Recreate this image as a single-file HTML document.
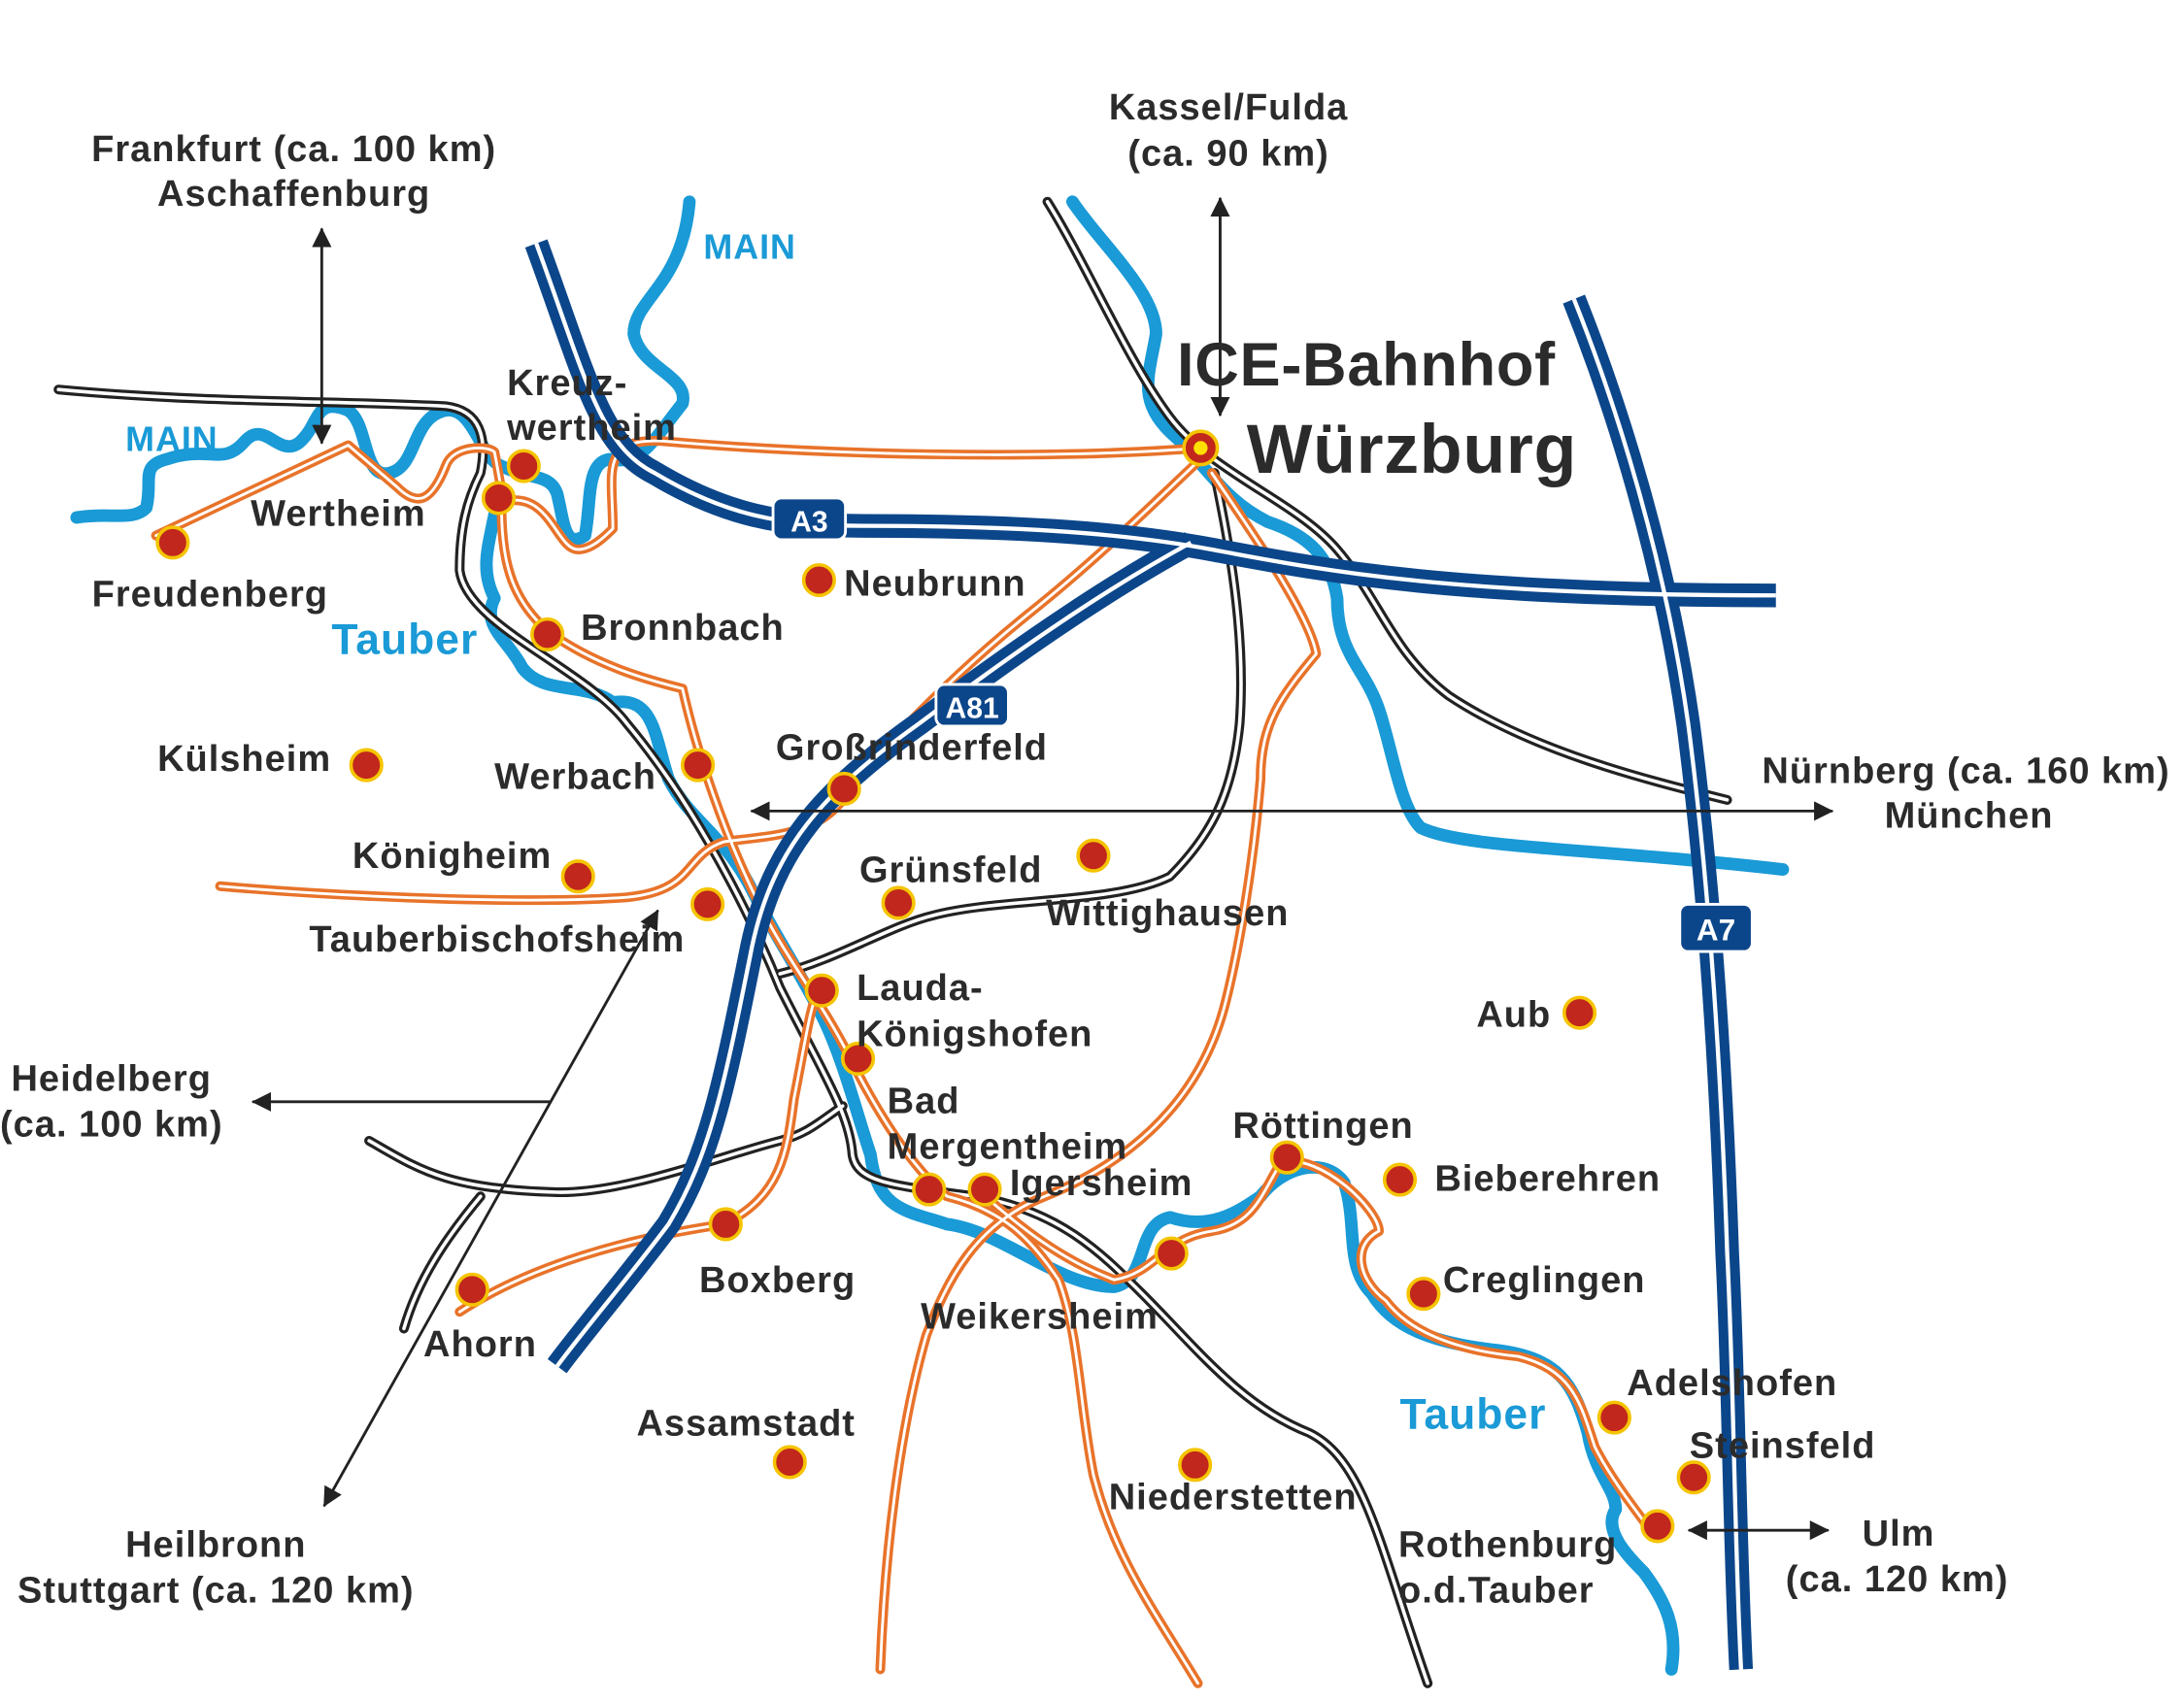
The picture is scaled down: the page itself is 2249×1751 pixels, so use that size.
<!DOCTYPE html>
<html><head><meta charset="utf-8"><style>
html,body{margin:0;padding:0;background:#fff;}
svg{display:block}
text{font-family:"Liberation Sans",Arial,sans-serif;font-weight:bold;fill:#2b2b2b;font-size:26.5px;letter-spacing:0.7px}
.r{fill:#1a9ad6}
</style></head><body>
<svg width="2249" height="1751" viewBox="0 0 1568 1222" preserveAspectRatio="none" xmlns="http://www.w3.org/2000/svg">
<defs>
<marker id="ah" viewBox="0 0 10 10" refX="9" refY="5" markerWidth="7" markerHeight="7" orient="auto-start-reverse"><path d="M0,0L10,5L0,10z" fill="#222"/></marker>
</defs>
<g fill="none" stroke-linecap="round" stroke-linejoin="round">
<g stroke="#1a9ad6" stroke-width="9">
<path d="M55,372 C80,368 95,375 105,365 C110,345 100,335 120,330 C150,320 160,335 175,318 C190,300 200,330 215,318 C230,305 225,285 250,295 C265,305 260,345 280,340 C300,335 295,300 320,295 C340,292 345,330 360,335 C380,345 395,340 400,355 C405,375 405,395 420,385 C425,360 420,330 440,330 C460,335 470,315 490,290 C495,270 460,265 455,240 C455,215 490,205 495,145"/>
<path d="M355,370 C350,395 345,410 355,430 C345,450 365,460 375,480 C390,500 420,490 440,505 C470,500 470,530 480,560 C495,590 520,600 540,640 C555,670 575,700 590,730 C605,760 615,800 625,830 C630,870 650,870 680,880 C720,885 760,925 800,925 C825,920 815,880 840,875 C870,885 890,870 905,860 C920,840 950,830 965,850 C975,880 965,910 985,930 C1000,955 1030,965 1070,970 C1120,975 1130,995 1140,1030 C1145,1060 1160,1070 1160,1085 C1150,1100 1170,1120 1180,1130 C1195,1150 1205,1170 1200,1200"/>
<path d="M770,145 C790,175 830,210 830,240 C825,270 815,290 845,315 C870,340 880,360 910,375 C940,385 955,400 960,430 C960,470 980,480 990,510 C1000,540 1005,580 1020,595 C1050,610 1150,610 1280,625"/>
</g>
<g stroke="#222" stroke-width="7">
<path id="r1" d="M42,280 C150,290 250,288 320,292 C345,295 350,315 345,340 C335,360 330,380 330,410 C335,450 420,480 450,520 C500,580 540,660 560,710 C590,770 610,800 612,830 C615,850 640,852 700,860 C760,870 790,900 820,930 C860,970 890,1010 940,1030 C980,1050 990,1110 1025,1210"/>
<path id="r2" d="M752,145 C780,190 810,260 840,300 C870,340 930,360 960,395 C990,430 1000,470 1040,500 C1100,540 1180,560 1240,575"/>
<path id="r3" d="M872,340 C880,380 895,450 890,520 C885,570 870,600 840,630 C800,650 720,645 670,658 C640,665 600,690 560,700"/>
<path id="r4" d="M265,820 C300,840 320,855 400,857 C450,858 520,830 560,820 C580,815 590,805 605,795"/>
<path id="r5" d="M290,955 C300,920 320,890 345,860"/>
</g>
<g stroke="#fff" stroke-width="2.5">
<use href="#r1"/><use href="#r2"/><use href="#r3"/><use href="#r4"/><use href="#r5"/>
</g>
<g stroke="#e8732a" stroke-width="7">
<path id="o1" d="M112,385 L250,320 L285,350 C300,365 310,360 320,335 C325,320 350,320 355,325 C360,350 360,360 365,360 C395,355 400,395 415,395 C425,395 435,385 440,380 C440,340 430,315 475,317 C600,328 760,330 862,322"/>
<path id="o2" d="M360,360 C360,400 365,430 395,455 C430,480 470,490 490,495 C500,540 520,600 545,650 C565,690 590,720 610,760 C630,800 655,840 680,860 C720,870 740,890 760,920 C775,960 775,1010 785,1060 C800,1120 830,1160 860,1210"/>
<path id="o3" d="M862,330 C830,360 790,400 740,440 C690,480 640,530 610,568 C590,600 560,600 520,605 C490,615 500,640 450,645 C380,650 250,645 158,637"/>
<path id="o4" d="M870,340 C890,370 940,440 945,470 C920,500 905,520 905,560 C900,620 890,680 880,720 C860,800 800,840 750,860 C700,880 680,920 665,960 C645,1030 635,1120 632,1200"/>
<path id="o5" d="M330,943 C380,910 450,890 520,880 C560,860 565,830 570,790 C578,750 582,720 588,712"/>
<path id="o6" d="M705,858 C730,880 760,905 800,920 C830,915 835,890 870,885 C900,880 905,860 920,835 C950,830 990,870 990,885 C970,895 975,920 995,935 C1010,955 1040,970 1090,975 C1130,985 1135,1010 1145,1040 C1155,1060 1170,1080 1185,1100"/>
</g>
<g stroke="#fff" stroke-width="2"><use href="#o1"/><use href="#o2"/><use href="#o3"/><use href="#o4"/><use href="#o5"/><use href="#o6"/></g>
<g stroke="#0c468a" stroke-width="17" stroke-linecap="butt">
<path id="h1" d="M385,175 C420,270 430,320 470,340 C520,370 560,378 620,378 C720,378 800,382 870,395 C950,410 1040,428 1275,428"/>
<path id="h2" d="M855,390 C800,420 740,460 660,520 C590,570 555,610 540,680 C520,780 510,830 480,880 C450,920 420,955 400,982"/>
<path id="h3" d="M1130,215 C1160,290 1195,400 1212,520 C1225,620 1235,750 1240,900 C1245,1000 1245,1100 1250,1200"/>
</g>
<g stroke="#fff" stroke-width="3" stroke-linecap="butt"><use href="#h1"/><use href="#h2"/><use href="#h3"/></g>
<g stroke="#222" stroke-width="2" marker-start="url(#ah)" marker-end="url(#ah)">
<path d="M231,165 L231,318"/>
<path d="M876,143 L876,298"/>
<path d="M540,583 L1315,583"/>
<path d="M1213,1100 L1312,1100"/>
<path d="M472,655 L233,1082"/>
</g>
<path d="M395,792 L182,792" stroke="#222" stroke-width="2" marker-end="url(#ah)"/>
</g>
<g>
<rect x="555" y="358" width="52" height="30" rx="6" fill="#0c468a" stroke="#fff" stroke-width="2"/>
<text x="581" y="382" text-anchor="middle" style="fill:#fff;font-size:21px;letter-spacing:0">A3</text>
<rect x="672" y="492" width="52" height="30" rx="6" fill="#0c468a" stroke="#fff" stroke-width="2"/>
<text x="698" y="516" text-anchor="middle" style="fill:#fff;font-size:21px;letter-spacing:0">A81</text>
<rect x="1206" y="650" width="52" height="34" rx="6" fill="#0c468a" stroke="#fff" stroke-width="2"/>
<text x="1232" y="676" text-anchor="middle" style="fill:#fff;font-size:22px;letter-spacing:0">A7</text>
</g>
<g fill="#c1271c" stroke="#f5c400" stroke-width="2.5">
<circle cx="124" cy="390" r="11"/><circle cx="376" cy="335" r="11"/><circle cx="358" cy="358" r="11"/>
<circle cx="393" cy="456" r="11"/><circle cx="588" cy="417" r="11"/><circle cx="263" cy="550" r="11"/>
<circle cx="501" cy="550" r="11"/><circle cx="606" cy="567" r="11"/><circle cx="415" cy="630" r="11"/>
<circle cx="508" cy="650" r="11"/><circle cx="645" cy="649" r="11"/><circle cx="785" cy="615" r="11"/>
<circle cx="590" cy="712" r="11"/><circle cx="616" cy="761" r="11"/><circle cx="667" cy="855" r="11"/>
<circle cx="707" cy="855" r="11"/><circle cx="521" cy="880" r="11"/><circle cx="339" cy="927" r="11"/>
<circle cx="841" cy="901" r="11"/><circle cx="924" cy="832" r="11"/><circle cx="1005" cy="848" r="11"/>
<circle cx="1022" cy="930" r="11"/><circle cx="1134" cy="728" r="11"/><circle cx="1159" cy="1019" r="11"/>
<circle cx="1216" cy="1062" r="11"/><circle cx="1190" cy="1097" r="11"/><circle cx="567" cy="1051" r="11"/>
<circle cx="858" cy="1053" r="11"/>
</g>
<circle cx="862" cy="322" r="12" fill="#c1271c" stroke="#f5c400" stroke-width="2.5"/>
<circle cx="862" cy="322" r="5" fill="#ffe000"/>
<text x="211" y="116" text-anchor="middle">Frankfurt (ca. 100 km)</text>
<text x="211" y="148" text-anchor="middle">Aschaffenburg</text>
<text x="882" y="86" text-anchor="middle">Kassel/Fulda</text>
<text x="882" y="119" text-anchor="middle">(ca. 90 km)</text>
<text x="845" y="277" style="font-size:44px;letter-spacing:0.5px">ICE-Bahnhof</text>
<text x="895" y="340" style="font-size:50px;letter-spacing:0.5px">Würzburg</text>
<text x="505" y="186" class="r" style="font-size:25px">MAIN</text>
<text x="90" y="324" class="r" style="font-size:25px">MAIN</text>
<text x="238" y="470" class="r" style="font-size:31px">Tauber</text>
<text x="1005" y="1027" class="r" style="font-size:31px">Tauber</text>
<text x="364" y="284">Kreuz-</text>
<text x="364" y="316">wertheim</text>
<text x="180" y="378">Wertheim</text>
<text x="66" y="436">Freudenberg</text>
<text x="417" y="460">Bronnbach</text>
<text x="606" y="428">Neubrunn</text>
<text x="113" y="554">Külsheim</text>
<text x="355" y="567">Werbach</text>
<text x="557" y="546">Großrinderfeld</text>
<text x="1265" y="563">Nürnberg (ca. 160 km)</text>
<text x="1353" y="595">München</text>
<text x="253" y="624">Königheim</text>
<text x="617" y="634">Grünsfeld</text>
<text x="751" y="665">Wittighausen</text>
<text x="222" y="684">Tauberbischofsheim</text>
<text x="615" y="719">Lauda-</text>
<text x="615" y="752">Königshofen</text>
<text x="1060" y="738">Aub</text>
<text x="8" y="784">Heidelberg</text>
<text x="0" y="817">(ca. 100 km)</text>
<text x="637" y="800">Bad</text>
<text x="637" y="833">Mergentheim</text>
<text x="725" y="859">Igersheim</text>
<text x="885" y="818">Röttingen</text>
<text x="1030" y="856">Bieberehren</text>
<text x="1036" y="929">Creglingen</text>
<text x="502" y="929">Boxberg</text>
<text x="661" y="955">Weikersheim</text>
<text x="304" y="975">Ahorn</text>
<text x="1168" y="1003">Adelshofen</text>
<text x="457" y="1032">Assamstadt</text>
<text x="1213" y="1048">Steinsfeld</text>
<text x="796" y="1085">Niederstetten</text>
<text x="1004" y="1119">Rothenburg</text>
<text x="1004" y="1152">o.d.Tauber</text>
<text x="1337" y="1111">Ulm</text>
<text x="1282" y="1144">(ca. 120 km)</text>
<text x="155" y="1119" text-anchor="middle">Heilbronn</text>
<text x="155" y="1152" text-anchor="middle">Stuttgart (ca. 120 km)</text>
</svg>
</body></html>
